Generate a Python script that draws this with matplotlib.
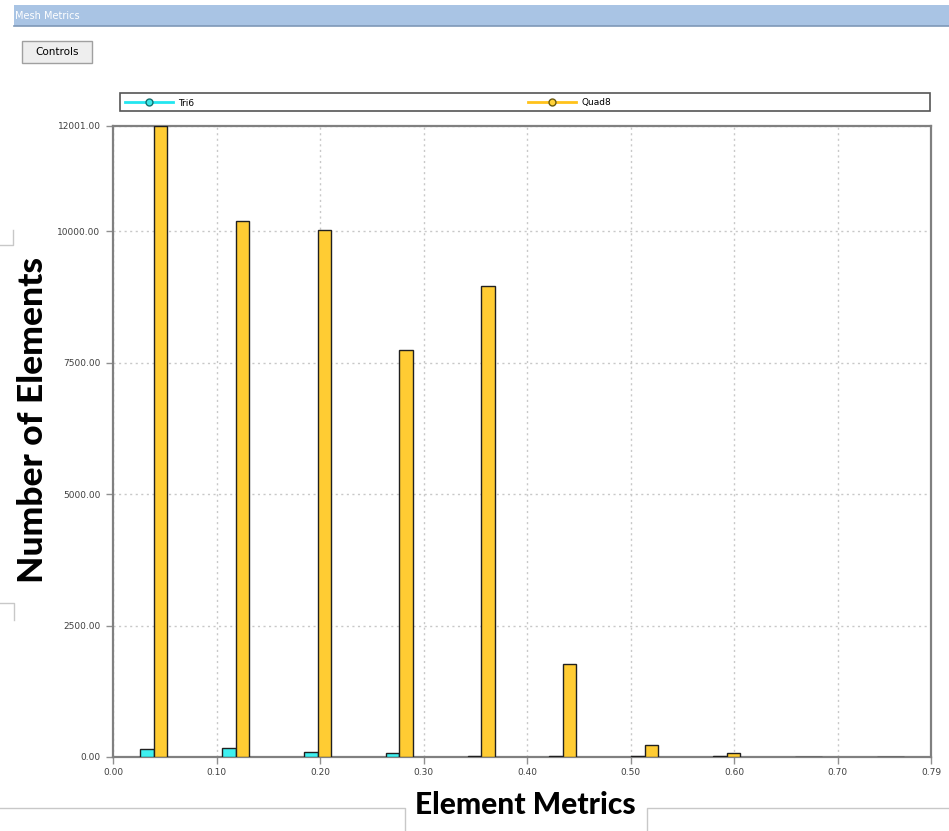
import matplotlib
matplotlib.use("Agg")
import matplotlib.pyplot as plt
from matplotlib.patches import Rectangle
from matplotlib.lines import Line2D
import numpy as np

# Histogram of element quality metric
bin_width = 0.079
n_bins = 10
tri6_counts = [150, 170, 90, 70, 12, 15, 15, 10, 8, 6]
quad8_counts = [12001, 10190, 10030, 7750, 8960, 1770, 230, 70, 6, 5]
series_names = ["Tri6", "Quad8"]
y_ticks = [0, 2500, 5000, 7500, 10000, 12001]
x_ticks = [0.0, 0.1, 0.2, 0.3, 0.4, 0.5, 0.6, 0.7, 0.79]

W, H = 949, 831
fig = plt.figure(figsize=(W / 100, H / 100), dpi=100)
fig.patch.set_facecolor("white")


def fx(px):
    return px / W


def fy(py):
    return 1 - py / H


# window title bar
fig.patches.append(Rectangle((fx(14), fy(26)), 1 - fx(14), fy(5) - fy(26),
                             transform=fig.transFigure, facecolor="#a9c4e4",
                             edgecolor="none", zorder=0))
fig.lines.append(Line2D([fx(14), 1], [fy(26), fy(26)], transform=fig.transFigure,
                        color="#7e98b8", lw=1.2))
fig.text(fx(15), fy(16), "Mesh Metrics", color="white", fontsize=7,
         family="DejaVu Sans", va="center", ha="left")

# Controls button
fig.patches.append(Rectangle((fx(22), fy(63)), fx(92) - fx(22), fy(41) - fy(63),
                             transform=fig.transFigure, facecolor="#eeeeee",
                             edgecolor="#a0a0a0", lw=1.0))
fig.text(fx(57), fy(52), "Controls", color="black", fontsize=7.5,
         family="DejaVu Sans", va="center", ha="center")

# stray frame lines around the labels
line_kw = dict(transform=fig.transFigure, color="#c8c8c8", lw=1.0)
fig.lines.append(Line2D([0, fx(13), fx(13)], [fy(245), fy(245), fy(230)], **line_kw))
fig.lines.append(Line2D([0, fx(14), fx(14)], [fy(603), fy(603), fy(620)], **line_kw))
fig.lines.append(Line2D([0, fx(405), fx(405)], [fy(808), fy(808), 0], **line_kw))
fig.lines.append(Line2D([1, fx(647), fx(647)], [fy(808), fy(808), 0], **line_kw))

ax = fig.add_axes([fx(113), fy(757), fx(931) - fx(113), fy(126) - fy(757)])

centers = bin_width * (np.arange(n_bins) + 0.5)
bw = 0.013
ax.bar(centers, tri6_counts, width=-bw, align="edge", color="#3ef0f0",
       edgecolor="#202020", linewidth=1.0, zorder=3)
ax.bar(centers, quad8_counts, width=bw, align="edge", color="#ffcc33",
       edgecolor="#202020", linewidth=1.0, zorder=3)

ax.set_xlim(0, 0.79)
ax.set_ylim(0, 12001)
ax.set_xticks(x_ticks)
ax.set_xticklabels([f"{t:.2f}" for t in x_ticks])
ax.set_yticks(y_ticks)
ax.set_yticklabels([f"{t:.2f}" for t in y_ticks])
ax.tick_params(axis="both", labelsize=6.5, labelcolor="#404040", color="#909090",
               length=5, width=1, direction="out")
ax.tick_params(axis="x", pad=3)
ax.tick_params(axis="y", pad=4)
ax.grid(True, color="#c8c8c8", linestyle=(0, (1.5, 2.5)), linewidth=1.0, zorder=0)
for s in ax.spines.values():
    s.set_color("#808080")
    s.set_linewidth(1.6)

fig.text(fx(33), fy(420), "Number of Elements", rotation=90, fontsize=25.5,
         fontweight="black", family="Lato", ha="center", va="center", color="black")
fig.text(fx(525), fy(805), "Element Metrics", fontsize=21.5, fontweight="black",
         family="Lato", ha="center", va="center", color="black")

# legend: one framed strip holding two entries
fig.patches.append(Rectangle((fx(120), fy(111)), fx(930) - fx(120), fy(93) - fy(111),
                             transform=fig.transFigure, facecolor="white",
                             edgecolor="#555555", lw=1.2))
handles = [
    Line2D([], [], color="#22e6f0", lw=2, marker="o", markersize=5,
           markerfacecolor="#3ee8e8", markeredgecolor="#157070"),
    Line2D([], [], color="#ffc21a", lw=2, marker="o", markersize=5,
           markerfacecolor="#ffd23a", markeredgecolor="#6a5a10"),
]
for h, name, xpx in zip(handles, series_names, [125, 528]):
    fig.legend([h], [name], loc="center left",
               bbox_to_anchor=(fx(xpx), fy(103)), bbox_transform=fig.transFigure,
               fontsize=6.5, frameon=False, handlelength=5.3, handletextpad=0.6,
               borderpad=0, borderaxespad=0)

fig.savefig("out.png", dpi=100)
